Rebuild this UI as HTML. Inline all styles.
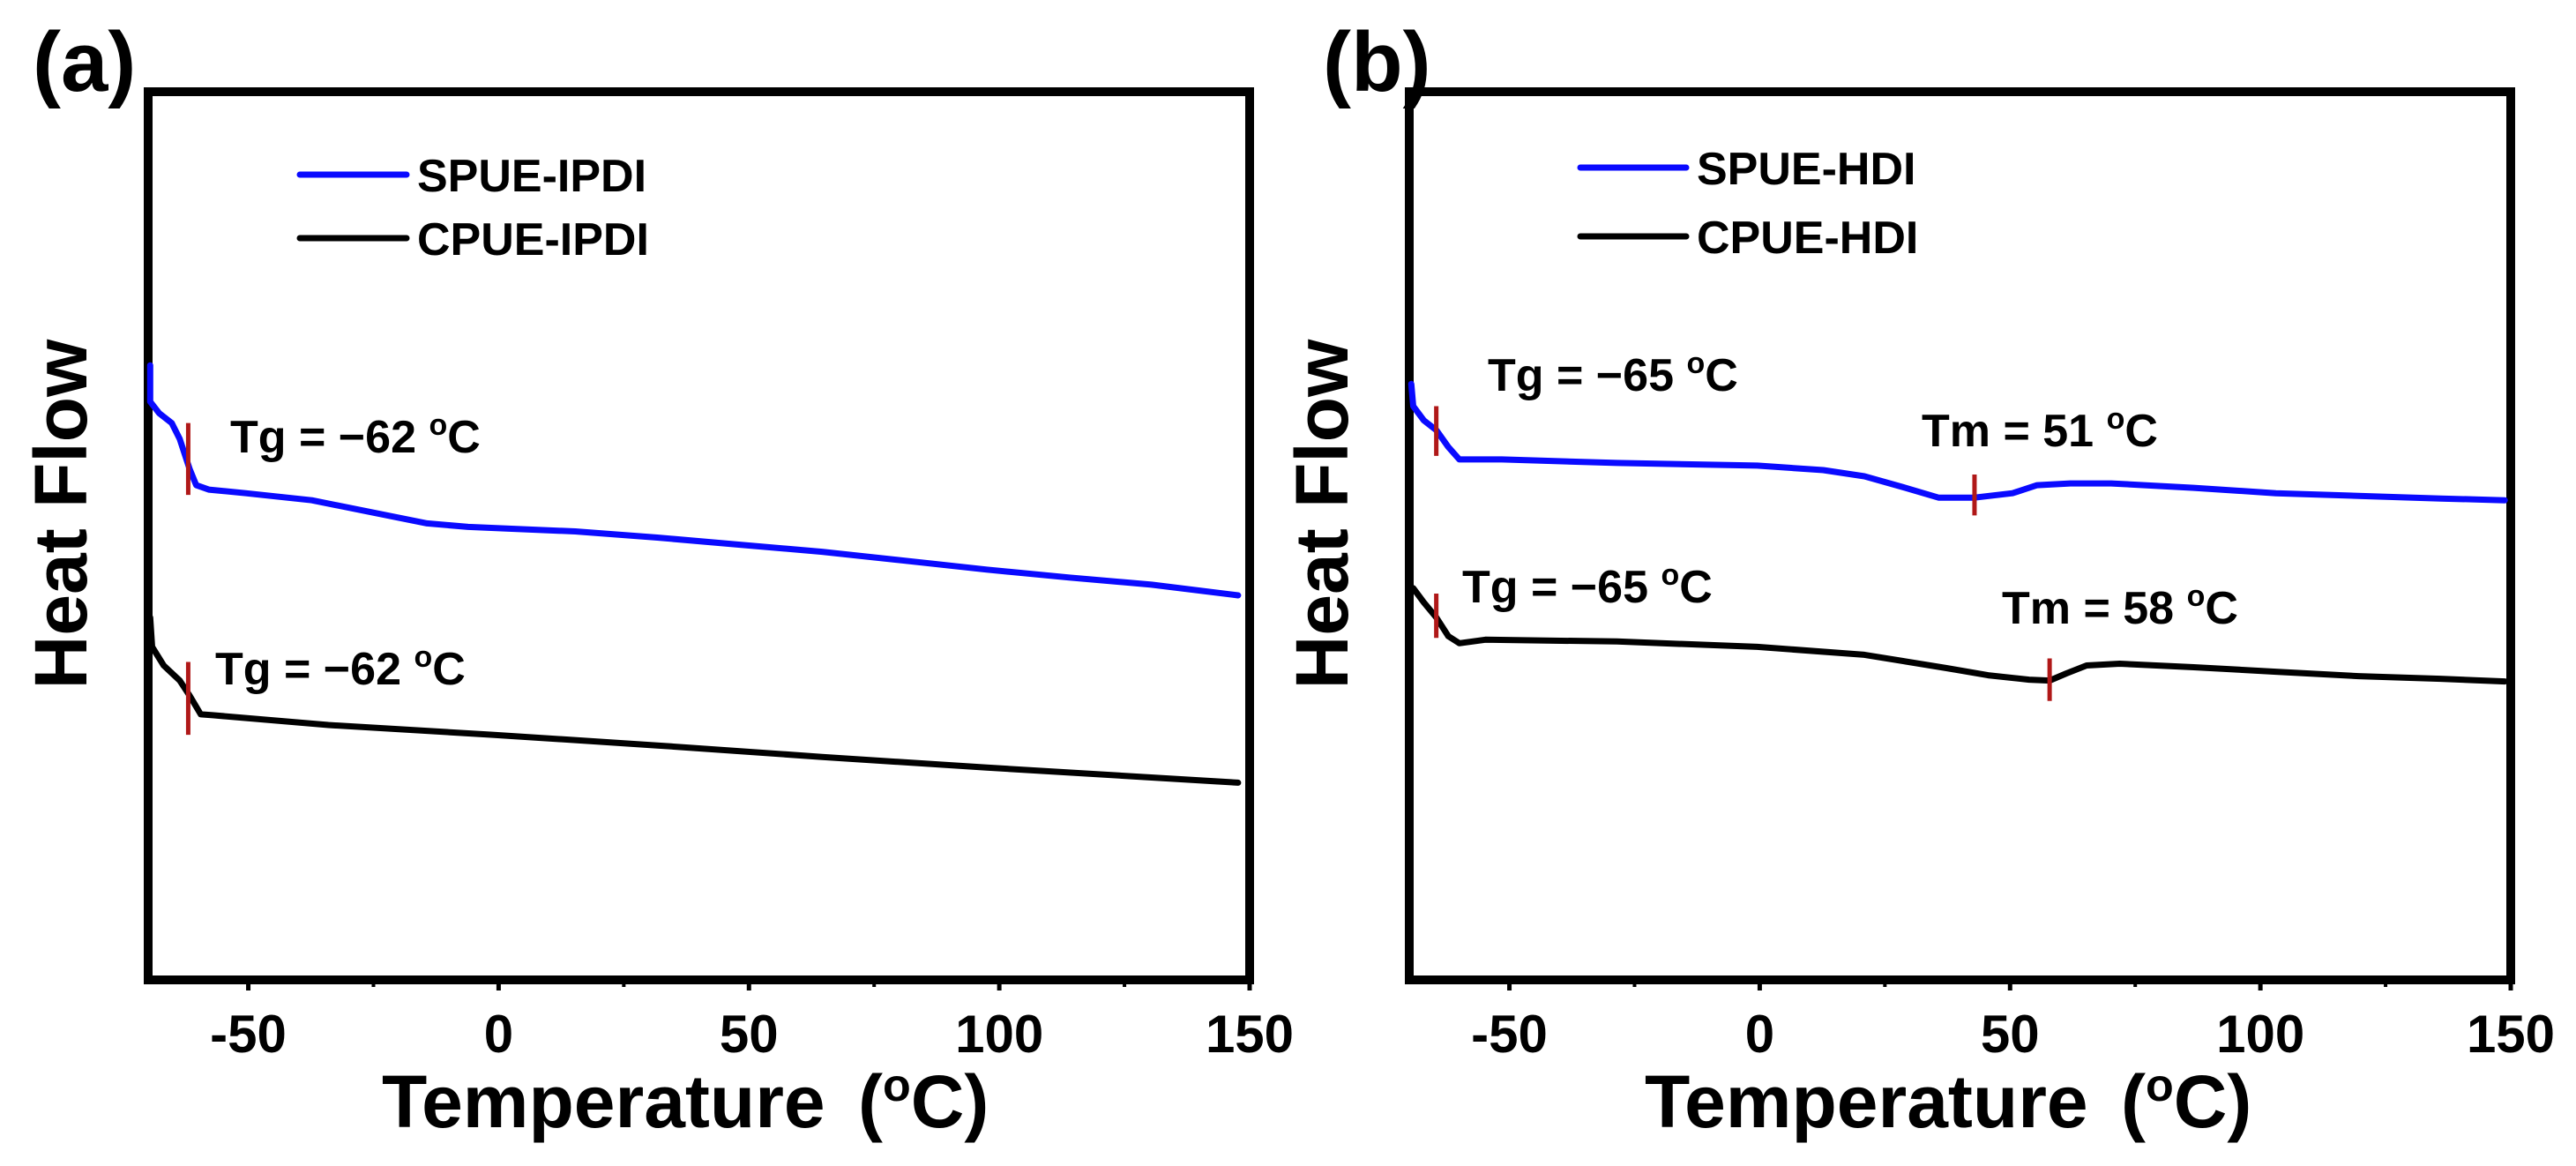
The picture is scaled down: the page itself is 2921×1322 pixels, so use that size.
<!DOCTYPE html>
<html><head><meta charset="utf-8"><style>
html,body{margin:0;padding:0;background:#fff;}
svg{display:block;font-family:"Liberation Sans",Arial,sans-serif;font-weight:bold;}
</style></head><body>
<svg id="fig" width="2921" height="1322" viewBox="0 0 2921 1322" xmlns="http://www.w3.org/2000/svg">
<g id="pa"></g>
<g id="pb"></g>
</svg>
<script>
// shared x ticks
const xTicks = [-50, 0, 50, 100, 150];
const xMinor = [-25, 25, 75, 125];

// Panel (a) data
const aBlueT = [-69.6,-69.6,-67.8,-65.3,-63.7,-61.7,-60.4,-57.9,-50.5,-37.3,-25.8,-14.3,-6.1,2.1,15.3,31.7,48.2,64.6,81.1,97.5,114,130.4,147.7];
const aBlueV = [69.2,65.1,63.8,62.7,60.9,57.5,55.7,55.2,54.8,54.0,52.7,51.4,51.0,50.8,50.5,49.8,49.0,48.2,47.2,46.2,45.3,44.5,43.3];
const aBlackT = [-69.6,-69.2,-66.9,-63.7,-61.7,-59.5,-57.1,-34.0,-1.2,31.7,64.6,97.5,147.7];
const aBlackV = [40.8,37.5,35.4,33.7,32.0,29.9,29.8,28.7,27.6,26.4,25.1,23.9,22.2];
const aMarkT = [-62, -62];
const aMarkV1 = [62.7, 35.8];
const aMarkV2 = [54.6, 27.6];

// Panel (b) data
const bBlueT = [-69.6,-69.2,-67.1,-64.6,-62.2,-60.0,-51.5,-28.5,-0.5,12.7,20.9,29.1,35.7,42.9,50.5,55.4,62.0,70.2,86.7,103.1,119.6,136.0,148.8];
const bBlueV = [67.1,64.6,63.0,61.9,60.0,58.6,58.6,58.2,57.9,57.4,56.7,55.4,54.3,54.3,54.8,55.7,55.9,55.9,55.4,54.8,54.5,54.2,54.0];
const bBlackT = [-69.2,-67.1,-64.6,-62.2,-60.0,-54.8,-28.5,-0.5,20.9,37.3,45.6,53.8,57.9,61.2,65.3,71.9,86.7,103.1,119.6,136.0,148.8];
const bBlackV = [44.1,42.5,40.8,38.7,37.9,38.3,38.1,37.5,36.6,35.1,34.3,33.8,33.7,34.5,35.4,35.6,35.2,34.7,34.2,33.9,33.6];
const bMarkT = [-64.6, 42.9, -64.6, 57.9];
const bMarkV1 = [64.6, 56.9, 43.5, 36.2];
const bMarkV2 = [59.0, 52.3, 38.5, 31.4];

const NS = "http://www.w3.org/2000/svg";
function mk(parent, tag, attrs, text) {
  const e = document.createElementNS(NS, tag);
  for (const k in attrs) e.setAttribute(k, attrs[k]);
  if (text !== undefined) e.textContent = text;
  parent.appendChild(e);
  return e;
}
const TOP = 104, BOT = 1111;
function yS(v) { return BOT - v * (BOT - TOP) / 100; }

function panel(g, L, R, cfg) {
  const xS = t => L + (t + 70) * (R - L) / 220;
  // frame
  const fr = mk(g, 'rect', {x:L, y:TOP, width:R-L, height:BOT-TOP, fill:'none', stroke:'#000', 'stroke-width':10});
  
  
  // ticks
  xTicks.forEach(t => {
    const tk = mk(g, 'line', {x1:xS(t), x2:xS(t), y1:BOT, y2:BOT+12, stroke:'#000', 'stroke-width':5});
    
    
    const lb = mk(g, 'text', {x:xS(t), y:1193, 'font-size':60, 'text-anchor':'middle'}, String(t));
    
    
  });
  xMinor.forEach(t => {
    const tk = mk(g, 'line', {x1:xS(t), x2:xS(t), y1:BOT, y2:BOT+8, stroke:'#000', 'stroke-width':4});
    
    
  });
  // axis titles
  const xt = mk(g, 'text', {x:cfg.titleX, y:1278, 'font-size':84}, 'Temperature');
  
  
  const xu = mk(g, 'text', {x:cfg.titleX + 540, y:1278, 'font-size':84}, '(');
  
  
  mk(xu, 'tspan', {'font-size':52, dy:-30}, 'o');
  mk(xu, 'tspan', {dy:30}, 'C)');
  const yt = mk(g, 'text', {x:0, y:0, 'font-size':84, 'text-anchor':'middle', transform:`translate(${cfg.hfX},583) rotate(-90)`}, 'Heat Flow');
  
  
  const pl = mk(g, 'text', {x:cfg.labelX, y:103, 'font-size':96}, cfg.label);
  
  
  // curves
  function curve(T, V, color, name) {
    const d = T.map((t, i) => (i ? 'L' : 'M') + xS(t).toFixed(1) + ',' + yS(V[i]).toFixed(1)).join(' ');
    const p = mk(g, 'path', {d:d, fill:'none', stroke:color, 'stroke-width':7, 'stroke-linejoin':'round', 'stroke-linecap':'round'});
    
    
  }
  curve(cfg.blueT, cfg.blueV, '#0a0aff', 'series-spue');
  curve(cfg.blackT, cfg.blackV, '#000', 'series-cpue');
  cfg.mT.forEach((t, i) => {
    const m = mk(g, 'line', {x1:xS(t), x2:xS(t), y1:yS(cfg.mV1[i]), y2:yS(cfg.mV2[i]), stroke:'#b01818', 'stroke-width':5});
    
    
  });
  // annotations
  cfg.ann.forEach(a => {
    const t = mk(g, 'text', {x:a[0], y:a[1], 'font-size':52}, a[2] + ' ');
    
    
    mk(t, 'tspan', {'font-size':34, dy:-20}, 'o');
    mk(t, 'tspan', {dy:20}, 'C');
  });
  // legend
  cfg.leg.forEach(l => {
    const ln = mk(g, 'line', {x1:cfg.legX1, x2:cfg.legX2, y1:l[0], y2:l[0], stroke:l[1], 'stroke-width':7, 'stroke-linecap':'round'});
    
    
    const tx = mk(g, 'text', {x:cfg.legX2 + 12, y:l[0] + 19, 'font-size':52}, l[2]);
    
    
  });
}

panel(document.getElementById('pa'), 168, 1417, {
  label:'(a)', labelX:37, hfX:98, titleX:433,
  blueT:aBlueT, blueV:aBlueV, blackT:aBlackT, blackV:aBlackV,
  mT:aMarkT, mV1:aMarkV1, mV2:aMarkV2,
  ann:[[261,513,'Tg = \u221262'],[244,776,'Tg = \u221262']],
  legX1:340, legX2:461,
  leg:[[198,'#0a0aff','SPUE-IPDI'],[270,'#000','CPUE-IPDI']]
});
panel(document.getElementById('pb'), 1598, 2847, {
  label:'(b)', labelX:1500, hfX:1528, titleX:1865,
  blueT:bBlueT, blueV:bBlueV, blackT:bBlackT, blackV:bBlackV,
  mT:bMarkT, mV1:bMarkV1, mV2:bMarkV2,
  ann:[[1687,443,'Tg = \u221265'],[1658,683,'Tg = \u221265'],[2179,506,'Tm = 51'],[2270,707,'Tm = 58']],
  legX1:1792, legX2:1912,
  leg:[[190,'#0a0aff','SPUE-HDI'],[268,'#000','CPUE-HDI']]
});
</script>
</body></html>
